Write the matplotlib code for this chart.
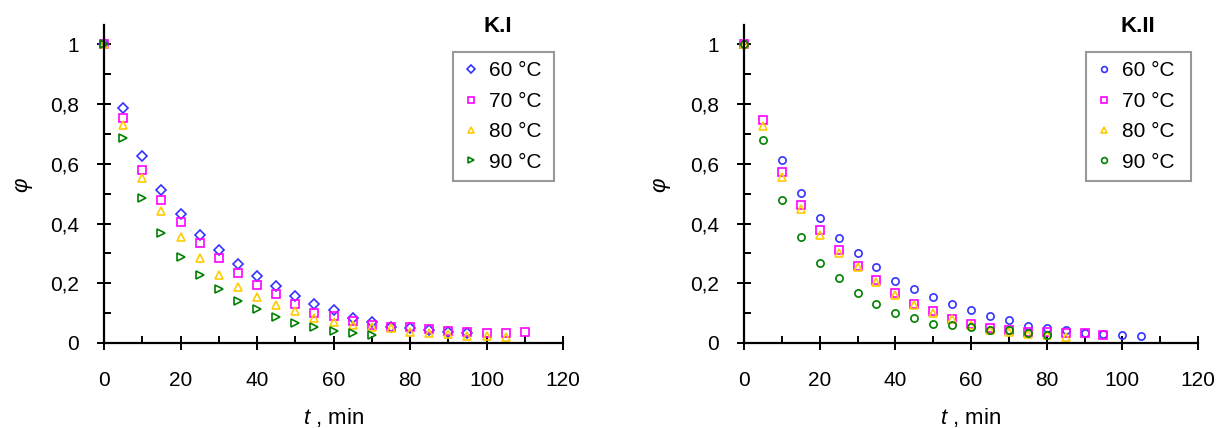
import numpy as np
import matplotlib
matplotlib.use("Agg")
import matplotlib.pyplot as plt
from matplotlib.ticker import MultipleLocator, FuncFormatter

plt.rcParams['font.family'] = ['Liberation Sans', 'DejaVu Sans']
plt.rcParams['mathtext.fontset'] = 'custom'
plt.rcParams['mathtext.it'] = 'Liberation Sans:italic'
plt.rcParams['mathtext.rm'] = 'Liberation Sans'

series_labels = ["60 °C", "70 °C", "80 °C", "90 °C"]

# K.I
k1_t60 = [0, 5, 10, 15, 20, 25, 30, 35, 40, 45, 50, 55, 60, 65, 70, 75, 80, 85, 90, 95]
k1_y60 = [1.0, 0.788, 0.625, 0.511, 0.431, 0.363, 0.311, 0.264, 0.223, 0.191, 0.157, 0.129,
          0.110, 0.084, 0.070, 0.055, 0.051, 0.043, 0.038, 0.032]
k1_t70 = [0, 5, 10, 15, 20, 25, 30, 35, 40, 45, 50, 55, 60, 65, 70, 75, 80, 85, 90, 95, 100, 105, 110]
k1_y70 = [1.0, 0.754, 0.579, 0.478, 0.404, 0.336, 0.283, 0.236, 0.194, 0.163, 0.129, 0.102,
          0.089, 0.075, 0.060, 0.055, 0.052, 0.047, 0.040, 0.038, 0.035, 0.035, 0.036]
k1_t80 = [0, 5, 10, 15, 20, 25, 30, 35, 40, 45, 50, 55, 60, 65, 70, 75, 80, 85, 90, 95, 100, 105]
k1_y80 = [1.0, 0.731, 0.551, 0.443, 0.356, 0.283, 0.227, 0.188, 0.155, 0.127, 0.107, 0.085,
          0.071, 0.060, 0.052, 0.049, 0.038, 0.032, 0.030, 0.025, 0.025, 0.019]
k1_t90 = [0, 5, 10, 15, 20, 25, 30, 35, 40, 45, 50, 55, 60, 65, 70]
k1_y90 = [1.0, 0.687, 0.487, 0.367, 0.287, 0.227, 0.182, 0.140, 0.113, 0.088, 0.066, 0.055,
          0.040, 0.032, 0.027]

# K.II
k2_t60 = [0, 10, 15, 20, 25, 30, 35, 40, 45, 50, 55, 60, 65, 70, 75, 80, 85, 90, 95, 100, 105]
k2_y60 = [1.0, 0.612, 0.501, 0.420, 0.353, 0.303, 0.255, 0.208, 0.182, 0.154, 0.129, 0.110,
          0.089, 0.076, 0.056, 0.050, 0.042, 0.035, 0.029, 0.028, 0.022]
k2_t70 = [0, 5, 10, 15, 20, 25, 30, 35, 40, 45, 50, 55, 60, 65, 70, 75, 80, 85, 90, 95]
k2_y70 = [1.0, 0.746, 0.573, 0.461, 0.378, 0.313, 0.258, 0.210, 0.168, 0.132, 0.106, 0.081,
          0.064, 0.050, 0.042, 0.036, 0.038, 0.034, 0.034, 0.028]
k2_t80 = [0, 5, 10, 15, 20, 25, 30, 35, 40, 45, 50, 55, 60, 65, 70, 75, 80, 85]
k2_y80 = [1.0, 0.726, 0.556, 0.450, 0.361, 0.302, 0.255, 0.204, 0.160, 0.126, 0.102, 0.082,
          0.059, 0.045, 0.037, 0.031, 0.028, 0.020]
k2_t90 = [0, 5, 10, 15, 20, 25, 30, 35, 40, 45, 50, 55, 60, 65, 70, 75, 80]
k2_y90 = [1.0, 0.679, 0.478, 0.355, 0.269, 0.218, 0.169, 0.130, 0.102, 0.084, 0.063, 0.059,
          0.054, 0.045, 0.043, 0.034, 0.026]

colors = ['#3333ff', '#ff00ff', '#ffcc00', '#008000']

W, H = 1221, 428
fig = plt.figure(figsize=(W / 100, H / 100), dpi=100)

# panel: axis x range in px, title, title x, ylabel x, data, markers, legend box (left, top, w, h)
panels = [
    (104, 563, "K.I", 498, 22,
     [(k1_t60, k1_y60), (k1_t70, k1_y70), (k1_t80, k1_y80), (k1_t90, k1_y90)],
     ['D', 's', '^', '>'], (453, 52, 101, 150)),
    (744, 1198, "K.II", 1138, 660,
     [(k2_t60, k2_y60), (k2_t70, k2_y70), (k2_t80, k2_y80), (k2_t90, k2_y90)],
     ['o', 's', '^', 'o'], (1086, 52, 105, 143)),
]

for x0, x1, title, tx, ylx, data, markers, box in panels:
    y0, y1 = 343, 25
    ax = fig.add_axes([x0 / W, 1 - y0 / H, (x1 - x0) / W, (y0 - y1) / H])
    for (t, y), c, m, lab in zip(data, colors, markers, series_labels):
        ax.plot(t, y, linestyle='none', marker=m, markersize=5.2,
                markerfacecolor='none', markeredgecolor=c, markeredgewidth=1.2,
                label=lab, clip_on=False)
    ax.set_xlim(0, 120)
    ax.set_ylim(0, 1.065)
    ax.xaxis.set_major_locator(MultipleLocator(20))
    ax.xaxis.set_minor_locator(MultipleLocator(10))
    ax.set_yticks([0, 0.2, 0.4, 0.6, 0.8, 1.0])
    ax.yaxis.set_minor_locator(MultipleLocator(0.1))
    ax.yaxis.set_major_formatter(FuncFormatter(lambda v, p: ('%g' % round(v, 1)).replace('.', ',')))
    for s in ('top', 'right'):
        ax.spines[s].set_visible(False)
    for s in ('left', 'bottom'):
        ax.spines[s].set_linewidth(1.6)
    ax.tick_params(which='major', direction='inout', length=10, width=1.4,
                   labelsize=15, colors='black')
    ax.tick_params(axis='x', which='major', pad=15)
    ax.tick_params(axis='y', which='major', pad=13)
    ax.tick_params(which='minor', direction='in', length=5, width=1.4)
    ax.set_xlabel(r'$t$ , min', fontsize=16)
    ax.xaxis.set_label_coords(0.5, -0.198)
    fig.text(ylx / W, 1 - 185 / H, 'φ', rotation=90, style='italic',
             fontsize=16, ha='center', va='center')
    fig.text(tx / W, 1 - 27 / H, title, fontsize=16, fontweight='bold',
             ha='center', va='center')
    bx, by, bw, bh = box
    leg = ax.legend(loc='upper left',
                    bbox_to_anchor=(bx / W, 1 - (by + bh) / H, bw / W, bh / H),
                    bbox_transform=fig.transFigure, mode='expand',
                    fontsize=15, frameon=True, fancybox=False,
                    handlelength=0.8, handletextpad=0.5, labelspacing=0.55,
                    borderpad=0.45, borderaxespad=0, markerscale=0.8)
    leg.get_frame().set_edgecolor('#808080')
    leg.get_frame().set_linewidth(1.5)

fig.savefig("out.png", dpi=100)
